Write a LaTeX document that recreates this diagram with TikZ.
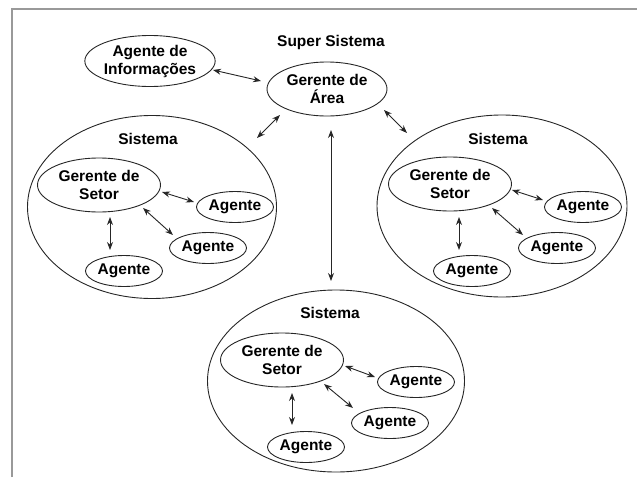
\documentclass[tikz,border=0pt]{standalone}
\usepackage{fontspec}
\setmainfont{Liberation Sans}
\usetikzlibrary{shapes.geometric,arrows.meta}
\begin{document}
\begin{tikzpicture}[x=1pt,y=-1pt,
  every node/.style={font=\bfseries\fontsize{15.5}{18}\selectfont},
  ell/.style={draw=black!85,line width=0.9pt,ellipse,inner sep=0pt,align=center},
  sys/.style={ell,minimum width=250pt,minimum height=183pt},
  ger/.style={ell,minimum width=123pt,minimum height=54pt},
  ag/.style={ell,minimum width=77pt,minimum height=31pt},
  lbl/.style={inner sep=0pt},
  dbl/.style={<->,>={Stealth[length=8pt,width=6pt]},line width=0.9pt,black!85}]
\useasboundingbox (0,0) rectangle (637,477);
\draw[gray!80,line width=1.5pt] (12,477) -- (12,9) -- (637,9);
% top
\node[lbl] (super) at (331,42) {Super Sistema};
\node[ell,minimum width=120pt,minimum height=54pt] (ga) at (327,89) {Gerente de\\Área};
\node[ell,minimum width=127pt,minimum height=51pt] (ai) at (150,61) {Agente de\\Informações};
% systems
\node[sys,minimum width=249pt,minimum height=183pt] (sL) at (152,207) {};
\node[sys,minimum width=250pt,minimum height=182pt] (sR) at (502,206) {};
\node[sys,minimum width=257pt,minimum height=182pt] (sB) at (336,381) {};
\node[lbl] (tL) at (148,139) {Sistema};
\node[lbl] (tR) at (498,139) {Sistema};
\node[lbl] (tB) at (330,313) {Sistema};
% left system
\node[ger] (gL) at (99,185) {Gerente de\\Setor};
\node[ag] (aL1) at (235,207) {Agente};
\node[ag] (aL2) at (208,248) {Agente};
\node[ag] (aL3) at (124,271) {Agente};
% right system
\node[ger] (gR) at (450,184) {Gerente de\\Setor};
\node[ag] (aR1) at (583,207) {Agente};
\node[ag] (aR2) at (557,248) {Agente};
\node[ag] (aR3) at (472,271) {Agente};
% bottom system
\node[ger] (gB) at (282,360) {Gerente de\\Setor};
\node[ag] (aB1) at (416,382) {Agente};
\node[ag] (aB2) at (390,423) {Agente};
\node[ag] (aB3) at (306,447) {Agente};
% connector end points
\coordinate (p1) at (213,70);  \coordinate (q1) at (261,81);
\coordinate (p2) at (280,115); \coordinate (q2) at (257,138);
\coordinate (p3) at (384,110); \coordinate (q3) at (407,133);
\coordinate (p4) at (331,130); \coordinate (q4) at (331,281);
\coordinate (pL1) at (162,192); \coordinate (qL1) at (194,202);
\coordinate (pL2) at (143,208); \coordinate (qL2) at (173,235);
\coordinate (pL3) at (110,217); \coordinate (qL3) at (110,250);
\coordinate (pR1) at (512,190); \coordinate (qR1) at (543,200);
\coordinate (pR2) at (492,208); \coordinate (qR2) at (523,235);
\coordinate (pR3) at (459,217); \coordinate (qR3) at (459,250);
\coordinate (pB1) at (345,366); \coordinate (qB1) at (375,377);
\coordinate (pB2) at (324,384); \coordinate (qB2) at (353,408);
\coordinate (pB3) at (292,393); \coordinate (qB3) at (292,425);
\foreach \a/\b in {p1/q1,p2/q2,p3/q3,p4/q4,pL1/qL1,pL2/qL2,pL3/qL3,pR1/qR1,pR2/qR2,pR3/qR3,pB1/qB1,pB2/qB2,pB3/qB3}
  \draw[dbl] (\a) -- (\b);
\end{tikzpicture}
\end{document}
